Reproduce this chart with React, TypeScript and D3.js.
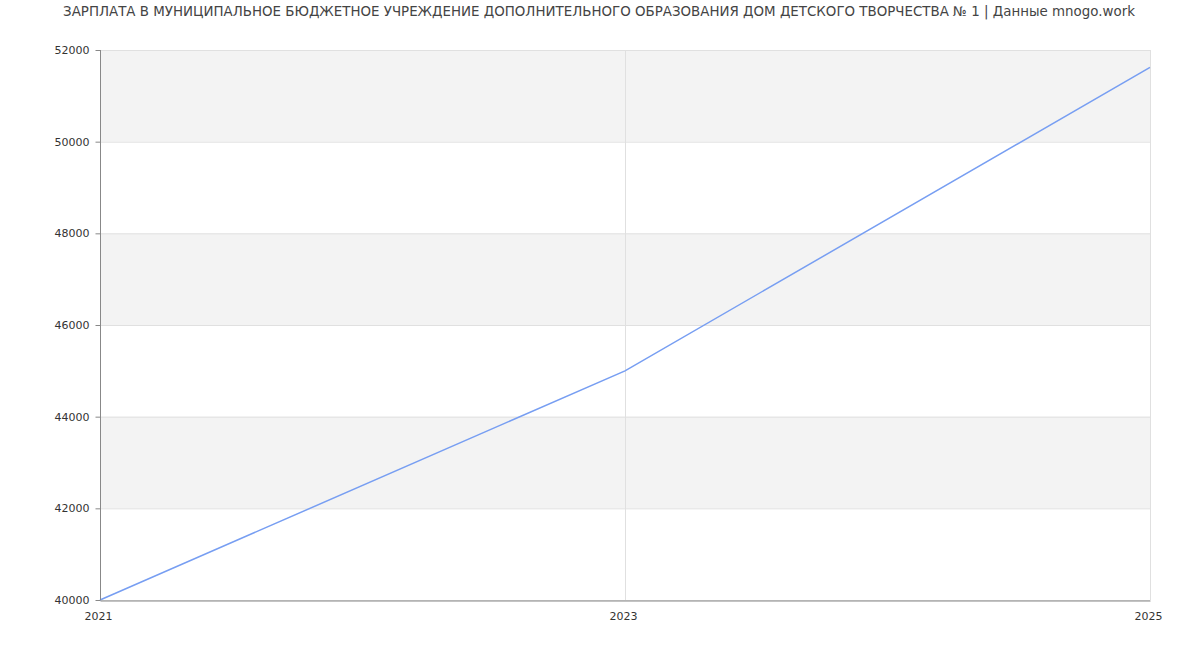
import { useEffect, useRef } from 'react';
import * as d3 from 'd3';

const TITLE = 'ЗАРПЛАТА В МУНИЦИПАЛЬНОЕ БЮДЖЕТНОЕ УЧРЕЖДЕНИЕ ДОПОЛНИТЕЛЬНОГО ОБРАЗОВАНИЯ ДОМ ДЕТСКОГО ТВОРЧЕСТВА № 1 | Данные mnogo.work';

const years = [2021, 2023, 2025];
const salaries = [40000, 45000, 51620];
const yTicks = [40000, 42000, 44000, 46000, 48000, 50000, 52000];

const W = 1200;
const H = 650;
const MARGIN = { top: 50, right: 50, bottom: 50, left: 100 };
const FONT = "'DejaVu Sans', sans-serif";

export default function App() {
  const ref = useRef<SVGSVGElement>(null);

  useEffect(() => {
    document.body.style.margin = '0';
    const svg = d3.select(ref.current);
    svg.selectAll('*').remove();

    const innerW = W - MARGIN.left - MARGIN.right;
    const innerH = H - MARGIN.top - MARGIN.bottom;

    const x = d3.scaleLinear().domain([years[0], years[years.length - 1]]).range([0, innerW]);
    const y = d3.scaleLinear().domain([40000, 52000]).range([innerH, 0]);

    svg.append('text')
      .attr('x', W / 2 - 1).attr('y', 16)
      .attr('text-anchor', 'middle')
      .attr('font-family', FONT)
      .attr('font-size', '13.4px')
      .attr('fill', '#444')
      .text(TITLE);

    const g = svg.append('g').attr('transform', `translate(${MARGIN.left},${MARGIN.top})`);

    // Alternating bands
    for (let i = 1; i < yTicks.length - 1; i += 2) {
      g.append('rect')
        .attr('x', 0).attr('width', innerW)
        .attr('y', y(yTicks[i + 1])).attr('height', y(yTicks[i]) - y(yTicks[i + 1]))
        .attr('fill', '#f3f3f3');
    }

    // Horizontal grid
    g.selectAll('.hgrid')
      .data(yTicks)
      .enter()
      .append('line')
      .attr('x1', 0).attr('x2', innerW)
      .attr('y1', (d) => y(d) + 0.5).attr('y2', (d) => y(d) + 0.5)
      .attr('stroke', '#e0e0e0');

    // Vertical grid
    g.selectAll('.vgrid')
      .data(years.slice(1))
      .enter()
      .append('line')
      .attr('x1', (d) => x(d) + 0.5).attr('x2', (d) => x(d) + 0.5)
      .attr('y1', 0).attr('y2', innerH)
      .attr('stroke', '#e0e0e0');

    // Line
    const line = d3.line<number>()
      .x((_, i) => x(years[i]))
      .y((d) => y(d));
    g.append('path')
      .datum(salaries)
      .attr('d', line)
      .attr('fill', 'none')
      .attr('stroke', '#779ef2')
      .attr('stroke-width', 1.5);

    // Y axis
    g.append('g')
      .attr('transform', 'translate(0.5,0)')
      .call(d3.axisLeft(y).tickValues(yTicks).tickSize(5).tickPadding(6).tickFormat((d) => String(d)))
      .call((a) => a.select('.domain').attr('stroke', '#888').attr('d', `M0,0V${innerH}`))
      .call((a) => a.selectAll('.tick line').attr('stroke', '#888'))
      .selectAll('text')
      .attr('fill', '#333')
      .attr('font-size', '11px')
      .attr('font-family', FONT);

    // X axis
    g.append('g')
      .attr('transform', `translate(0,${innerH + 0.5})`)
      .call(d3.axisBottom(x).tickValues(years).tickSize(0).tickPadding(12).tickFormat((d) => String(d)))
      .call((a) => a.select('.domain').attr('stroke', '#888'))
      .selectAll('text')
      .attr('dx', '-2')
      .attr('fill', '#333')
      .attr('font-size', '11px')
      .attr('font-family', FONT);
  }, []);

  return <svg ref={ref} width={W} height={H} style={{ display: 'block' }} />;
}
